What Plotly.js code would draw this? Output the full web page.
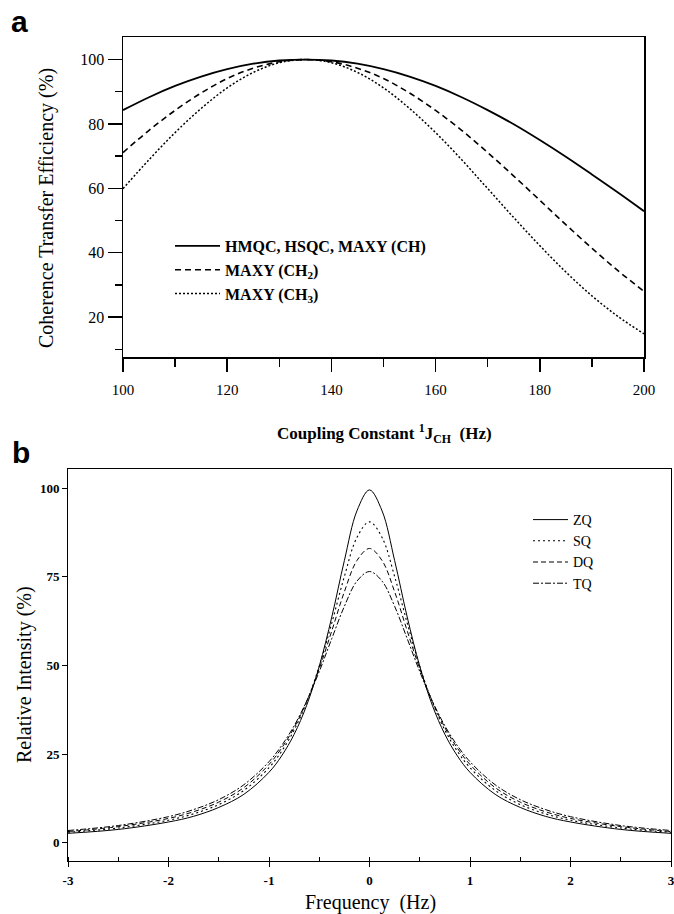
<!DOCTYPE html>
<html><head><meta charset="utf-8">
<script src="https://cdn.plot.ly/plotly-3.0.1.min.js"></script>
<style>html,body{margin:0;padding:0;background:#fff}</style>
</head><body><div id="chart" style="width:674px;height:914px"></div>
<script>
// Panel a: coherence transfer efficiency vs 1J(CH)
const couplingHz = [100,105,110,115,120,125,130,135,140,145,150,155,160,165,170,175,180,185,190,195,200];
const effCH  = [84.3,88.3,91.8,94.7,97.0,98.7,99.7,100,99.7,98.7,97.0,94.7,91.8,88.3,84.3,79.9,75.0,69.8,64.3,58.7,52.9];
const effCH2 = [71.1,78.0,84.2,89.6,94.1,97.3,99.3,100,99.3,97.3,94.1,89.6,84.2,78.0,71.1,63.8,56.3,48.7,41.4,34.4,28.0];
const effCH3 = [59.9,68.9,77.3,84.8,91.2,96.0,99.0,100,99.0,96.0,91.2,84.8,77.3,68.9,59.9,50.9,42.2,34.0,26.6,20.2,14.8];
const namesA = ["HMQC, HSQC, MAXY (CH)", "MAXY (CH<sub>2</sub>)", "MAXY (CH<sub>3</sub>)"];

// Panel b: relative intensity vs frequency
const freqHz = [-3,-2.5,-2,-1.75,-1.5,-1.25,-1,-0.875,-0.75,-0.625,-0.5,-0.375,-0.25,-0.125,0,0.125,0.25,0.375,0.5,0.625,0.75,0.875,1,1.25,1.5,1.75,2,2.5,3];
const intZQ = [2.7,3.8,5.9,7.5,10.0,13.7,19.9,24.5,30.6,38.8,49.8,63.7,79.6,93.6,99.5,93.6,79.6,63.7,49.8,38.8,30.6,24.5,19.9,13.7,10.0,7.5,5.9,3.8,2.7];
const intSQ = [3.0,4.2,6.4,8.2,10.8,14.8,21.2,25.8,31.8,39.7,49.8,62.0,75.1,86.1,90.5,86.1,75.1,62.0,49.8,39.7,31.8,25.8,21.2,14.8,10.8,8.2,6.4,4.2,3.0];
const intDQ = [3.2,4.6,6.9,8.8,11.5,15.6,22.1,26.7,32.5,39.9,49.1,59.8,70.8,79.6,83.0,79.6,70.8,59.8,49.1,39.9,32.5,26.7,22.1,15.6,11.5,8.8,6.9,4.6,3.2];
const intTQ = [3.5,4.9,7.4,9.4,12.2,16.4,22.9,27.4,33.0,40.0,48.3,57.6,66.7,73.8,76.5,73.8,66.7,57.6,48.3,40.0,33.0,27.4,22.9,16.4,12.2,9.4,7.4,4.9,3.5];
const namesB = ["ZQ","SQ","DQ","TQ"];
const freqTickVals = [-3,-2,-1,0,1,2,3];
const freqTickText = ["-3","-2","-1","0","1","2","3"];

const W = 674, H = 914;
const px = v => v / W, py = v => 1 - v / H;
const SERIF = "Liberation Serif, Times New Roman, serif";
const SANS = "Liberation Sans, Arial, sans-serif";

const traces = [
  {x: couplingHz, y: effCH,  name: namesA[0], mode: "lines", line: {color: "#000", width: 1.8, shape: "spline"}, xaxis: "x", yaxis: "y", legend: "legend"},
  {x: couplingHz, y: effCH2, name: namesA[1], mode: "lines", line: {color: "#000", width: 1.6, dash: "6px,4px", shape: "spline"}, xaxis: "x", yaxis: "y", legend: "legend"},
  {x: couplingHz, y: effCH3, name: namesA[2], mode: "lines", line: {color: "#000", width: 1.5, dash: "2px,2px", shape: "spline"}, xaxis: "x", yaxis: "y", legend: "legend"},
  {x: freqHz, y: intZQ, name: namesB[0], mode: "lines", line: {color: "#000", width: 1, shape: "spline"}, xaxis: "x2", yaxis: "y2", legend: "legend2"},
  {x: freqHz, y: intSQ, name: namesB[1], mode: "lines", line: {color: "#000", width: 1.1, dash: "2px,3px", shape: "spline"}, xaxis: "x2", yaxis: "y2", legend: "legend2"},
  {x: freqHz, y: intDQ, name: namesB[2], mode: "lines", line: {color: "#000", width: 1, dash: "5px,3px", shape: "spline"}, xaxis: "x2", yaxis: "y2", legend: "legend2"},
  {x: freqHz, y: intTQ, name: namesB[3], mode: "lines", line: {color: "#000", width: 1, dash: "6px,2px,2px,2px", shape: "spline"}, xaxis: "x2", yaxis: "y2", legend: "legend2"}
];

const layout = {
  width: W, height: H,
  margin: {l: 0, r: 0, t: 0, b: 0},
  paper_bgcolor: "#fff", plot_bgcolor: "#fff",
  font: {family: SERIF, color: "#000"},
  showlegend: true,
  xaxis: {
    domain: [px(123), px(644)], anchor: "y", range: [100, 200],
    tickmode: "linear", tick0: 100, dtick: 20,
    ticks: "outside", ticklen: 13, tickwidth: 1.5, tickcolor: "#000",
    minor: {dtick: 10, tick0: 100, ticks: "outside", ticklen: 8, tickwidth: 1.5, tickcolor: "#000"},
    showline: true, linewidth: 1.5, linecolor: "#000", mirror: true,
    showgrid: false, zeroline: false,
    tickfont: {family: SERIF, size: 15}, ticklabelstandoff: 5
  },
  yaxis: {
    domain: [py(357), py(37)], anchor: "x", range: [7.6, 107],
    tickmode: "linear", tick0: 20, dtick: 20,
    ticks: "outside", ticklen: 14, tickwidth: 1.5, tickcolor: "#000",
    minor: {dtick: 10, tick0: 0, ticks: "outside", ticklen: 7, tickwidth: 1.5, tickcolor: "#000"},
    showline: true, linewidth: 1.5, linecolor: "#000", mirror: true,
    showgrid: false, zeroline: false,
    tickfont: {family: SERIF, size: 16}
  },
  xaxis2: {
    domain: [px(68), px(671)], anchor: "y2", range: [-3, 3],
    tickmode: "array", tickvals: freqTickVals, ticktext: freqTickText,
    ticks: "outside", ticklen: 5, tickwidth: 1, tickcolor: "#000",
    minor: {tickmode: "linear", dtick: 0.5, tick0: -3, ticks: "inside", ticklen: 4, tickwidth: 1, tickcolor: "#000"},
    showline: true, linewidth: 1, linecolor: "#000", mirror: true,
    showgrid: false, zeroline: false, ticklabeloverflow: "allow",
    tickfont: {family: SERIF, size: 13, weight: "bold"}, ticklabelstandoff: 2
  },
  yaxis2: {
    domain: [py(861), py(469)], anchor: "x2", range: [-5.1, 105.4],
    tickmode: "linear", tick0: 0, dtick: 25,
    ticks: "outside", ticklen: 5, tickwidth: 1, tickcolor: "#000",
    showline: true, linewidth: 1, linecolor: "#000", mirror: true,
    showgrid: false, zeroline: false,
    tickfont: {family: SERIF, size: 13, weight: "bold"}
  },
  legend: {
    x: px(170), y: py(229), xanchor: "left", yanchor: "top",
    bgcolor: "rgba(0,0,0,0)", borderwidth: 0,
    font: {family: SERIF, size: 16, weight: "bold", color: "#000"},
    itemwidth: 45, tracegroupgap: 0
  },
  legend2: {
    x: px(528), y: py(504), xanchor: "left", yanchor: "top",
    bgcolor: "rgba(0,0,0,0)", borderwidth: 0,
    font: {family: SERIF, size: 14, color: "#000"},
    itemwidth: 35, tracegroupgap: 0
  },
  annotations: [
    {text: "a", x: px(19), y: py(40), xref: "paper", yref: "paper", xanchor: "center", yanchor: "bottom", showarrow: false, font: {family: SANS, size: 30, weight: "bold"}},
    {text: "b", x: px(21), y: py(471), xref: "paper", yref: "paper", xanchor: "center", yanchor: "bottom", showarrow: false, font: {family: SANS, size: 30, weight: "bold"}},
    {text: "Coherence Transfer Efficiency (%)", x: px(46), y: py(208), xref: "paper", yref: "paper", xanchor: "center", yanchor: "middle", textangle: -90, showarrow: false, font: {family: SERIF, size: 20}},
    {text: "Coupling Constant <sup>1</sup>J<sub>CH</sub>\u00a0 (Hz)", x: px(384), y: py(434), xref: "paper", yref: "paper", xanchor: "center", yanchor: "middle", showarrow: false, font: {family: SERIF, size: 17, weight: "bold"}},
    {text: "Relative Intensity (%)", x: px(24), y: py(675), xref: "paper", yref: "paper", xanchor: "center", yanchor: "middle", textangle: -90, showarrow: false, font: {family: SERIF, size: 20}},
    {text: "Frequency\u00a0 (Hz)", x: px(370), y: py(902), xref: "paper", yref: "paper", xanchor: "center", yanchor: "middle", showarrow: false, font: {family: SERIF, size: 20}}
  ]
};

Plotly.newPlot("chart", traces, layout, {displayModeBar: false, staticPlot: true});
</script>
</body></html>
